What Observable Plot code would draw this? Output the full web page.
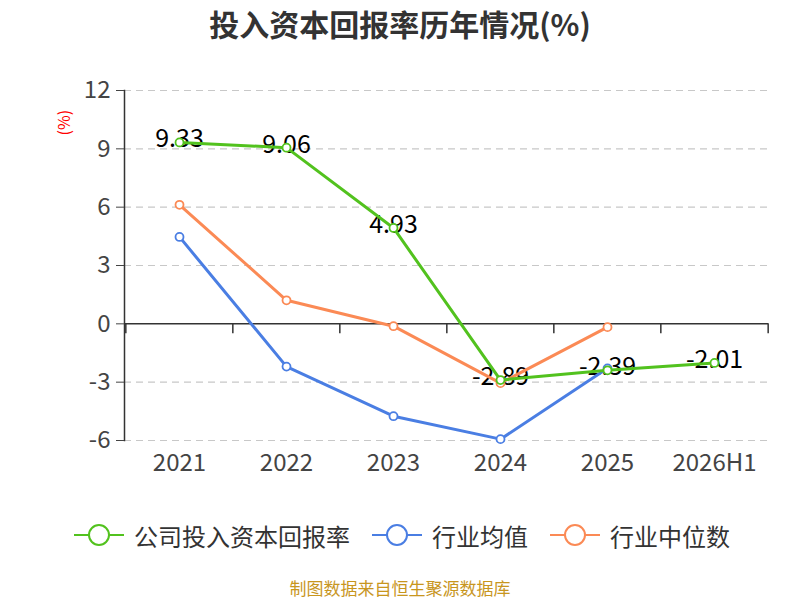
<!DOCTYPE html>
<html>
<head>
<meta charset="utf-8">
<script src="https://cdn.jsdelivr.net/npm/d3@7"></script>
<script src="https://cdn.jsdelivr.net/npm/@observablehq/plot@0.6"></script>
<style>
  html, body { margin: 0; padding: 0; background: #fff; width: 800px; height: 600px; overflow: hidden; }
  body { font-family: "Noto Sans CJK SC", "Noto Sans", sans-serif; }
  #title { height: 50px; line-height: 46px; text-align: center; font-size: 30px; font-weight: bold; color: #333; }
  #legend { height: 80px; display: flex; justify-content: center; align-items: center; font-size: 24px; color: #333; padding-left: 4px; }
  .item { display: flex; align-items: center; margin: 0 11px; }
  .item svg { margin-right: 10px; }
  #footer { height: 25px; line-height: 25px; text-align: center; font-size: 17px; color: #c8961e; }
</style>
</head>
<body>
<div id="title">投入资本回报率历年情况(%)</div>
<div id="chart"></div>
<div id="legend"></div>
<div id="footer">制图数据来自恒生聚源数据库</div>
<script>
const years = ["2021", "2022", "2023", "2024", "2025", "2026H1"];
const companyValues = [9.33, 9.06, 4.93, -2.89, -2.39, -2.01];
const industryAvgYears = ["2021", "2022", "2023", "2024", "2025"];
const industryAvgValues = [4.47, -2.2, -4.75, -5.93, -2.29];
const industryMedYears = ["2021", "2022", "2023", "2024", "2025"];
const industryMedValues = [6.12, 1.21, -0.12, -3.05, -0.17];
const yTicks = [-6, -3, 0, 3, 6, 9, 12];
const seriesNames = ["公司投入资本回报率", "行业均值", "行业中位数"];
const seriesColors = ["#52c21e", "#4a7ee3", "#fb8a55"];

const company = years.map((x, i) => ({x, v: companyValues[i]}));
const avg = industryAvgYears.map((x, i) => ({x, v: industryAvgValues[i]}));
const med = industryMedYears.map((x, i) => ({x, v: industryMedValues[i]}));

const W = 800, H = 445, mL = 124, mR = 32, mT = 40, mB = 55;
const step = (W - mL - mR) / years.length;

const seriesMarks = (data, color) => [
  Plot.line(data, {x: "x", y: "v", stroke: color, strokeWidth: 3}),
  Plot.dot(data, {x: "x", y: "v", r: 4, fill: "#fff", stroke: color, strokeWidth: 1.8})
];

const chart = Plot.plot({
  width: W, height: H,
  marginLeft: mL, marginRight: mR, marginTop: mT, marginBottom: mB,
  style: {fontFamily: "'Noto Sans CJK SC', 'Noto Sans', sans-serif", background: "#fff"},
  x: {type: "point", domain: years, padding: 0.5},
  y: {domain: [-6, 12]},
  marks: [
    Plot.gridY(yTicks.filter(t => t !== 0), {stroke: "#c8c8c8", strokeOpacity: 1, strokeDasharray: "7,5", strokeWidth: 1.2}),
    Plot.ruleY([0], {stroke: "#333", strokeWidth: 1.5}),
    Plot.ruleX(years, {x: d => d, y1: 0, y2: 0, insetBottom: -10, dx: -step / 2, stroke: "#333", strokeWidth: 1.5}),
    Plot.ruleX(years.slice(-1), {x: d => d, y1: 0, y2: 0, insetBottom: -10, dx: step / 2, stroke: "#333", strokeWidth: 1.5}),
    Plot.frame({anchor: "left", stroke: "#333", strokeWidth: 1.5}),
    Plot.axisY({ticks: yTicks, tickSize: 8, tickPadding: 6, fontSize: 24, color: "#444", label: null, tickFormat: d => String(d)}),
    Plot.axisX({tickSize: 0, tickPadding: 13, fontSize: 24, color: "#444", label: null}),
    Plot.text(["(%)"], {frameAnchor: "top-left", rotate: -90, dx: -66, dy: 45, fill: "red", fontSize: 16}),
    Plot.text(company, {x: "x", y: "v", text: d => d.v.toFixed(2), fontSize: 25, fill: "#000", dy: -3}),
    ...seriesMarks(med, seriesColors[2]),
    ...seriesMarks(avg, seriesColors[1]),
    ...seriesMarks(company, seriesColors[0])
  ]
});
document.getElementById("chart").appendChild(chart);

const legend = document.getElementById("legend");
seriesNames.forEach((name, i) => {
  const item = document.createElement("div");
  item.className = "item";
  item.innerHTML = `<svg width="50" height="26"><line x1="0" y1="13" x2="50" y2="13" stroke="${seriesColors[i]}" stroke-width="2"/><circle cx="25" cy="13" r="10" fill="#fff" stroke="${seriesColors[i]}" stroke-width="2"/></svg><span>${name}</span>`;
  legend.appendChild(item);
});
</script>
</body>
</html>
